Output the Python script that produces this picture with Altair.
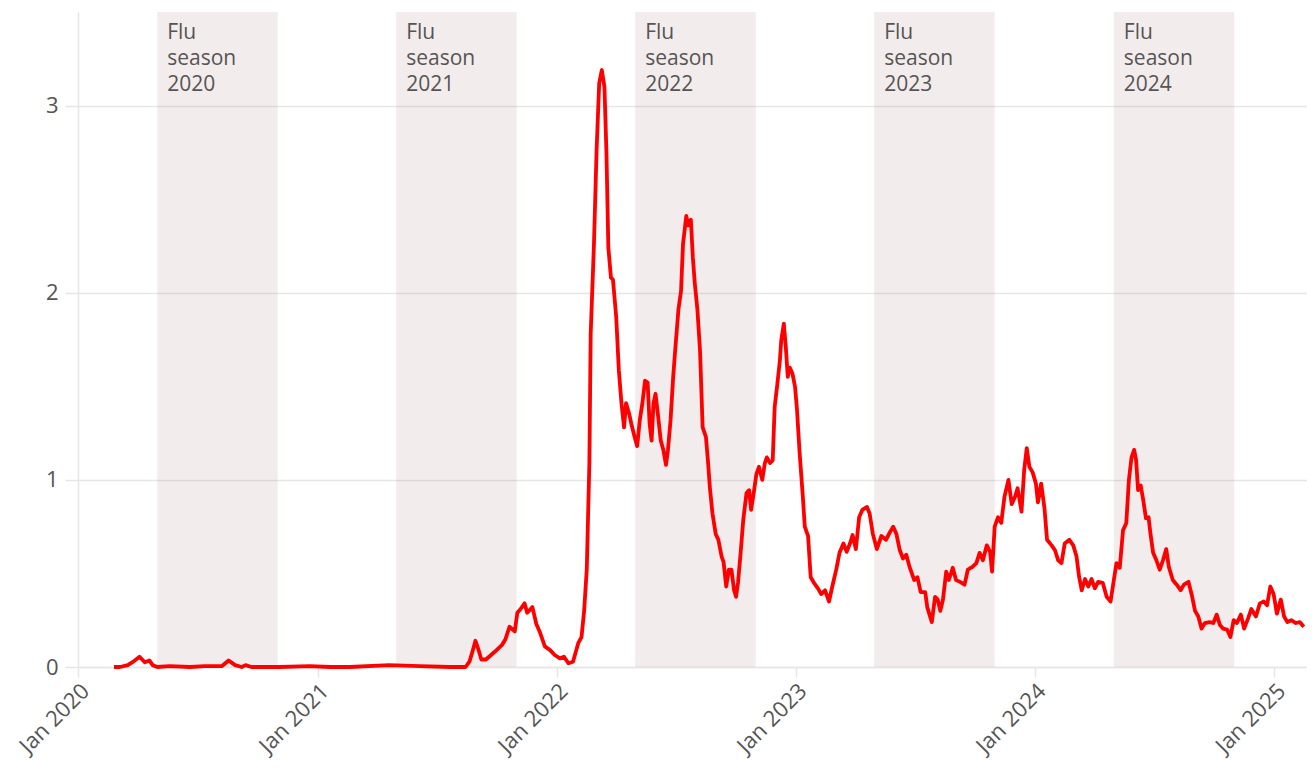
import altair as alt
import pandas as pd

# ---- data ----
dates = [
    "2020-02-25", "2020-03-05", "2020-03-17", "2020-03-26", "2020-04-04", "2020-04-12", "2020-04-19", "2020-04-24",
    "2020-05-01", "2020-05-20", "2020-06-20", "2020-07-13", "2020-08-08", "2020-08-18", "2020-08-28", "2020-09-07",
    "2020-09-13", "2020-09-22", "2020-11-04", "2020-12-20", "2021-01-20", "2021-02-19", "2021-04-20", "2021-06-06",
    "2021-07-22", "2021-08-15",
    "2021-08-21", "2021-08-26", "2021-08-30", "2021-09-03", "2021-09-08", "2021-09-15", "2021-09-28", "2021-10-10",
    "2021-10-15", "2021-10-21", "2021-10-29", "2021-11-02", "2021-11-07", "2021-11-13", "2021-11-17", "2021-11-25",
    "2021-12-01", "2021-12-06", "2021-12-14", "2021-12-22", "2021-12-29",
    "2022-01-06", "2022-01-12", "2022-01-19", "2022-01-26", "2022-02-03", "2022-02-08", "2022-02-12", "2022-02-16",
    "2022-02-20", "2022-02-22", "2022-02-27", "2022-03-03", "2022-03-07", "2022-03-11", "2022-03-15", "2022-03-18",
    "2022-03-21", "2022-03-25", "2022-03-28", "2022-04-02", "2022-04-06", "2022-04-10", "2022-04-14", "2022-04-17",
    "2022-04-22", "2022-04-25", "2022-04-30", "2022-05-04", "2022-05-08", "2022-05-12", "2022-05-16", "2022-05-20",
    "2022-05-23", "2022-05-26", "2022-05-29", "2022-06-01", "2022-06-05", "2022-06-09", "2022-06-13", "2022-06-17",
    "2022-06-20", "2022-06-24", "2022-06-28", "2022-07-01", "2022-07-06", "2022-07-10", "2022-07-13", "2022-07-18",
    "2022-07-21", "2022-07-25", "2022-07-28", "2022-07-31", "2022-08-04", "2022-08-08", "2022-08-12", "2022-08-17",
    "2022-08-20", "2022-08-23", "2022-08-27", "2022-09-01", "2022-09-05", "2022-09-10", "2022-09-13", "2022-09-17",
    "2022-09-21", "2022-09-25", "2022-09-29", "2022-10-02", "2022-10-05", "2022-10-09", "2022-10-13", "2022-10-18",
    "2022-10-22", "2022-10-25", "2022-10-29", "2022-11-02", "2022-11-06", "2022-11-11", "2022-11-15", "2022-11-18",
    "2022-11-23", "2022-11-27", "2022-11-30", "2022-12-04", "2022-12-08", "2022-12-10", "2022-12-14", "2022-12-17",
    "2022-12-20", "2022-12-23", "2022-12-27", "2022-12-31",
    "2023-01-03", "2023-01-07", "2023-01-12", "2023-01-15", "2023-01-20", "2023-01-24", "2023-01-29", "2023-02-04",
    "2023-02-09", "2023-02-15", "2023-02-21", "2023-02-26", "2023-03-04", "2023-03-09", "2023-03-15", "2023-03-20",
    "2023-03-25", "2023-03-29", "2023-04-03", "2023-04-08", "2023-04-13", "2023-04-20", "2023-04-24", "2023-04-29",
    "2023-05-05", "2023-05-12", "2023-05-19", "2023-05-25", "2023-05-30", "2023-06-04", "2023-06-09", "2023-06-14",
    "2023-06-19", "2023-06-24", "2023-07-01", "2023-07-06", "2023-07-11", "2023-07-18", "2023-07-21", "2023-07-28",
    "2023-08-02", "2023-08-06", "2023-08-10", "2023-08-14", "2023-08-19", "2023-08-23", "2023-08-29", "2023-09-03",
    "2023-09-09", "2023-09-16", "2023-09-21", "2023-09-28", "2023-10-04", "2023-10-09", "2023-10-14", "2023-10-20",
    "2023-10-25", "2023-10-28", "2023-11-01", "2023-11-06", "2023-11-11", "2023-11-16", "2023-11-22", "2023-11-27",
    "2023-12-02", "2023-12-06", "2023-12-12", "2023-12-16", "2023-12-20", "2023-12-24", "2023-12-29",
    "2024-01-03", "2024-01-06", "2024-01-11", "2024-01-16", "2024-01-20", "2024-01-27", "2024-02-01", "2024-02-06",
    "2024-02-11", "2024-02-16", "2024-02-23", "2024-02-29", "2024-03-05", "2024-03-09", "2024-03-13", "2024-03-18",
    "2024-03-23", "2024-03-28", "2024-04-02", "2024-04-07", "2024-04-14", "2024-04-20", "2024-04-26", "2024-05-01",
    "2024-05-05", "2024-05-10", "2024-05-15", "2024-05-20", "2024-05-24", "2024-05-28", "2024-06-01", "2024-06-04",
    "2024-06-07", "2024-06-11", "2024-06-15", "2024-06-19", "2024-06-23", "2024-06-26", "2024-06-30", "2024-07-05",
    "2024-07-10", "2024-07-15", "2024-07-20", "2024-07-24", "2024-07-30", "2024-08-05", "2024-08-11", "2024-08-16",
    "2024-08-23", "2024-08-28", "2024-09-02", "2024-09-07", "2024-09-12", "2024-09-17", "2024-09-24", "2024-09-30",
    "2024-10-05", "2024-10-10", "2024-10-15", "2024-10-21", "2024-10-26", "2024-10-31", "2024-11-05", "2024-11-11",
    "2024-11-16", "2024-11-22", "2024-11-27", "2024-12-04", "2024-12-10", "2024-12-16", "2024-12-21", "2024-12-26",
    "2024-12-31", "2025-01-05", "2025-01-11", "2025-01-16", "2025-01-21", "2025-01-27", "2025-02-03", "2025-02-09",
    "2025-02-15",
]
values = [
    0.0, 0.0, 0.01, 0.03, 0.055, 0.025, 0.035, 0.01,
    0.0, 0.005, 0.0, 0.005, 0.005, 0.035, 0.01, 0.0,
    0.01, 0.0, 0.0, 0.005, 0.0, 0.0, 0.01, 0.005,
    0.0, 0.0,
    0.03, 0.09, 0.14, 0.10, 0.04, 0.04, 0.08, 0.12,
    0.15, 0.215, 0.19, 0.29, 0.31, 0.34, 0.29, 0.32,
    0.23, 0.19, 0.11, 0.09, 0.064,
    0.046, 0.055, 0.02, 0.028, 0.127, 0.16, 0.30, 0.52,
    1.09, 1.78, 2.26, 2.76, 3.12, 3.19, 3.10, 2.76,
    2.24, 2.08, 2.07, 1.87, 1.585, 1.41, 1.28, 1.41,
    1.35, 1.30, 1.23, 1.18, 1.32, 1.41, 1.53, 1.52,
    1.30, 1.21, 1.41, 1.46, 1.34, 1.21, 1.16, 1.08,
    1.16, 1.32, 1.55, 1.69, 1.91, 2.01, 2.26, 2.41,
    2.36, 2.39, 2.19, 2.05, 1.91, 1.69, 1.28, 1.23,
    1.105, 0.96, 0.82, 0.71, 0.68, 0.59, 0.56, 0.43,
    0.52, 0.52, 0.41, 0.375, 0.45, 0.61, 0.785, 0.93,
    0.945, 0.84, 0.93, 1.03, 1.07, 1.00, 1.09, 1.12,
    1.09, 1.105, 1.39, 1.51, 1.64, 1.745, 1.835, 1.71,
    1.55, 1.60, 1.57, 1.50,
    1.38, 1.15, 0.91, 0.75, 0.70, 0.48, 0.45, 0.42,
    0.39, 0.41, 0.35, 0.43, 0.52, 0.61, 0.66, 0.615,
    0.66, 0.705, 0.63, 0.80, 0.84, 0.855, 0.82, 0.71,
    0.63, 0.70, 0.68, 0.72, 0.75, 0.71, 0.625, 0.58,
    0.60, 0.535, 0.465, 0.48, 0.40, 0.40, 0.32, 0.24,
    0.375, 0.36, 0.30, 0.36, 0.51, 0.465, 0.53, 0.465,
    0.455, 0.44, 0.52, 0.535, 0.555, 0.61, 0.57, 0.65,
    0.615, 0.51, 0.75, 0.80, 0.77, 0.91, 1.00, 0.87,
    0.91, 0.955, 0.83, 1.05, 1.17, 1.07, 1.04,
    0.98, 0.88, 0.98, 0.85, 0.68, 0.65, 0.625, 0.57,
    0.555, 0.66, 0.68, 0.65, 0.59, 0.48, 0.41, 0.47,
    0.43, 0.47, 0.42, 0.455, 0.45, 0.375, 0.35, 0.465,
    0.555, 0.53, 0.73, 0.77, 1.00, 1.12, 1.16, 1.105,
    0.945, 0.97, 0.89, 0.795, 0.80, 0.71, 0.61, 0.57,
    0.52, 0.57, 0.63, 0.535, 0.465, 0.44, 0.41, 0.44,
    0.455, 0.385, 0.30, 0.27, 0.205, 0.235, 0.24, 0.235,
    0.28, 0.225, 0.205, 0.20, 0.16, 0.25, 0.235, 0.28,
    0.205, 0.26, 0.31, 0.27, 0.34, 0.35, 0.33, 0.43,
    0.39, 0.285, 0.36, 0.27, 0.24, 0.25, 0.235, 0.24,
    0.215,
]

season_start = ["2020-05-01", "2021-05-01", "2022-05-01", "2023-05-01", "2024-05-01"]
season_end = ["2020-11-01", "2021-11-01", "2022-11-01", "2023-11-01", "2024-11-01"]
season_label = ["Flu\nseason\n2020", "Flu\nseason\n2021", "Flu\nseason\n2022",
                "Flu\nseason\n2023", "Flu\nseason\n2024"]

year_ticks = [2020, 2021, 2022, 2023, 2024, 2025]

# ---- build tables ----
series = pd.DataFrame({"date": dates, "value": values})
seasons = pd.DataFrame({"start": season_start, "end": season_end, "label": season_label})

FONT = "Open Sans"
TEXT_COLOR = "#555555"
GRID = "#e6e6e6"

xscale = alt.Scale(
    type="utc",
    domain=[alt.DateTime(year=2020, month=1, date=1, utc=True),
            alt.DateTime(year=2025, month=2, date=20, utc=True)],
)
xaxis = alt.Axis(
    values=[alt.DateTime(year=y, month=1, date=1, utc=True) for y in year_ticks],
    format="%b %Y",
    labelAngle=-45,
    grid=False,
    domainColor=GRID,
    tickColor=GRID,
    tickSize=10,
    labelFontSize=22,
    labelColor=TEXT_COLOR,
    labelFont=FONT,
    labelPadding=3,
    title=None,
)

bands = alt.Chart(seasons).mark_rect(color="#b08080", opacity=0.15).encode(
    x=alt.X("start:T", scale=xscale, axis=xaxis),
    x2="end:T",
)

labels = alt.Chart(seasons).mark_text(
    align="left", baseline="alphabetic", lineBreak="\n", lineHeight=26,
    dx=10, dy=27, font=FONT, fontSize=21, color=TEXT_COLOR,
).encode(
    x=alt.X("start:T", scale=xscale),
    y=alt.value(0),
    text="label:N",
)

line = alt.Chart(series).mark_line(color="#ff0000", strokeWidth=3.8, strokeJoin="round").encode(
    x=alt.X("date:T", scale=xscale),
    y=alt.Y(
        "value:Q",
        scale=alt.Scale(domain=[0, 3.5], nice=False),
        axis=alt.Axis(
            values=[0, 1, 2, 3],
            grid=True,
            gridColor=GRID,
            gridWidth=1.5,
            domainColor=GRID,
            tickColor=GRID,
            tickSize=13,
            labelPadding=7,
            labelFontSize=22,
            labelColor=TEXT_COLOR,
            labelFont=FONT,
            title=None,
        ),
    ),
)

chart = alt.layer(bands, labels, line).properties(
    width=1229,
    height=655,
    autosize=alt.AutoSizeParams(type="none"),
    padding={"left": 70, "top": 4, "right": 0, "bottom": 96},
).configure_view(stroke=None).configure_axis(domainWidth=1.5, tickWidth=1.5)

chart.save("out.html", embed_options={"renderer": "svg", "actions": False})
